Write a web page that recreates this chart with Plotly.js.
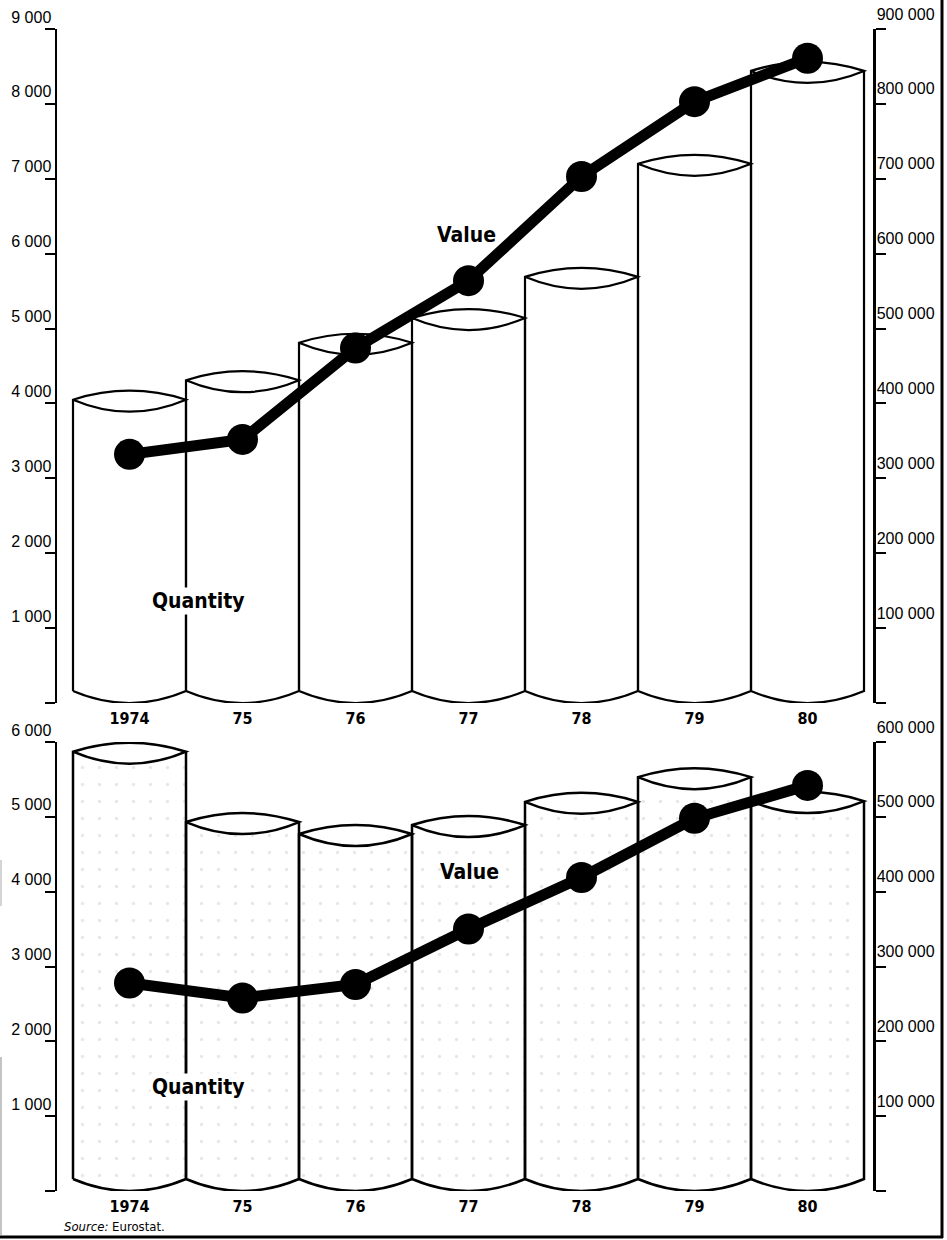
<!DOCTYPE html>
<html>
<head>
<meta charset="utf-8">
<script src="https://cdn.plot.ly/plotly-3.0.1.min.js"></script>
<style>
  html, body { margin: 0; padding: 0; background: #ffffff; }
  #chart { width: 947px; height: 1240px; }
</style>
</head>
<body>
<div id="chart"></div>
<script>
// ---------- data ----------
const years = ['1974', '75', '76', '77', '78', '79', '80'];
const yearPos = [0, 1, 2, 3, 4, 5, 6];

// upper panel
const quantityTop = [3890, 4150, 4650, 4980, 5530, 7040, 8280];
const valueTop = [332000, 352000, 474000, 564000, 703000, 803000, 861000];

// lower panel
const quantityBottom = [5710, 4770, 4610, 4730, 5040, 5370, 5050];
const valueBottom = [278000, 258000, 276000, 350000, 419000, 498000, 542000];

// tick labels
const qtyTicksTop = [0, 1000, 2000, 3000, 4000, 5000, 6000, 7000, 8000, 9000];
const qtyLabelsTop = ['', '1 000', '2 000', '3 000', '4 000', '5 000', '6 000', '7 000', '8 000', '9 000'];
const valTicksTop = [0, 100000, 200000, 300000, 400000, 500000, 600000, 700000, 800000, 900000];
const valLabelsTop = ['', '100 000', '200 000', '300 000', '400 000', '500 000', '600 000', '700 000', '800 000', '900 000'];

const qtyTicksBottom = [0, 1000, 2000, 3000, 4000, 5000, 6000];
const qtyLabelsBottom = ['', '1 000', '2 000', '3 000', '4 000', '5 000', '6 000'];
const valTicksBottom = [0, 100000, 200000, 300000, 400000, 500000, 600000];
const valLabelsBottom = ['', '100 000', '200 000', '300 000', '400 000', '500 000', '600 000'];

const labelValue = 'Value';
const labelQuantity = 'Quantity';
const sourceText = '<i>Source:</i> Eurostat.';

// ---------- styling / geometry ----------
const W = 947, H = 1240;
const M = { l: 57, r: 74, t: 29, b: 49 };
const plotH = H - M.t - M.b;
const domTop = [(1191 - 703) / plotH, 1];
const domBottom = [0, (1191 - 742) / plotH];
const xRange = [-0.6416, 6.5796];
const topQtyMax = 9000, bottomQtyMax = 6000;
const topValMax = 900000, bottomValMax = 600000;

const pxTop = (domTop[1] - domTop[0]) * plotH;
const pxBottom = (domBottom[1] - domBottom[0]) * plotH;
const kTop = topQtyMax / pxTop;          // data units per px
const kBottom = bottomQtyMax / pxBottom;

const COND = '"DejaVu Sans Condensed", "DejaVu Sans", sans-serif';
const SANS = '"Liberation Sans", Arial, sans-serif';

// cylinder outline path built from a bar's value through the data axes
function cylinderPath(i, v, k) {
  const dip = 12 * k, rise = 9 * k;
  const xl = i - 0.5, xr = i + 0.5;
  const yb = dip, ys = v + dip;
  return `M ${xl},${yb} L ${xl},${ys} ` +
         `Q ${i},${ys + 2 * rise} ${xr},${ys} ` +
         `Q ${i},${ys - 2 * dip} ${xl},${ys} ` +
         `M ${xr},${ys} L ${xr},${yb} ` +
         `Q ${i},${yb - 2 * dip} ${xl},${yb}`;
}

const shapes = [];
quantityTop.forEach((v, i) => shapes.push({
  type: 'path', xref: 'x', yref: 'y', layer: 'above',
  path: cylinderPath(yearPos[i], v, kTop),
  line: { color: '#000', width: 2.2 }
}));
quantityBottom.forEach((v, i) => shapes.push({
  type: 'path', xref: 'x2', yref: 'y3', layer: 'above',
  path: cylinderPath(yearPos[i], v, kBottom),
  line: { color: '#000', width: 2.5 }
}));

// scanned page frame
const px2x = p => (p - M.l) / (W - M.l - M.r);
const px2y = p => (H - M.b - p) / plotH;
shapes.push({ type: 'line', xref: 'paper', yref: 'paper', x0: px2x(942), x1: px2x(942), y0: px2y(0), y1: px2y(1238), line: { color: '#000', width: 3 } });
shapes.push({ type: 'line', xref: 'paper', yref: 'paper', x0: px2x(0), x1: px2x(943), y0: px2y(1237), y1: px2y(1237), line: { color: '#000', width: 3 } });
shapes.push({ type: 'line', xref: 'paper', yref: 'paper', x0: px2x(1), x1: px2x(1), y0: px2y(1057), y1: px2y(1236), line: { color: '#888', width: 1 } });
shapes.push({ type: 'line', xref: 'paper', yref: 'paper', x0: px2x(1), x1: px2x(1), y0: px2y(860), y1: px2y(906), line: { color: '#aaa', width: 1 } });

const lineStyle = { color: '#000', width: 11 };
const markerStyle = { color: '#000', size: 31, line: { width: 0 } };

const traces = [
  {
    type: 'bar', x: yearPos, y: quantityTop, xaxis: 'x', yaxis: 'y', width: 1,
    marker: { color: '#ffffff', line: { width: 0 } }, hoverinfo: 'skip', name: labelQuantity
  },
  {
    type: 'scatter', mode: 'lines+markers', x: yearPos, y: valueTop, xaxis: 'x', yaxis: 'y2',
    line: lineStyle, marker: markerStyle, hoverinfo: 'skip', name: labelValue
  },
  {
    type: 'bar', x: yearPos, y: quantityBottom, xaxis: 'x2', yaxis: 'y3', width: 1,
    marker: {
      color: '#ffffff', line: { width: 0 },
      pattern: { shape: '.', fgcolor: '#d0d0d0', bgcolor: '#ffffff', size: 17, solidity: 0.03, fillmode: 'overlay' }
    },
    hoverinfo: 'skip', name: labelQuantity
  },
  {
    type: 'scatter', mode: 'lines+markers', x: yearPos, y: valueBottom, xaxis: 'x2', yaxis: 'y4',
    line: lineStyle, marker: markerStyle, hoverinfo: 'skip', name: labelValue
  }
];

const tickFont = { family: SANS, size: 16, color: '#000' };
function leftAxis(domain, range, vals, text, anchor) {
  return {
    domain, range, anchor, side: 'left', fixedrange: true,
    tickmode: 'array', tickvals: vals, ticktext: text,
    showline: true, linecolor: '#000', linewidth: 2.5,
    ticks: 'outside', ticklen: 10, tickwidth: 2, tickcolor: '#000',
    showgrid: false, zeroline: false,
    tickfont: tickFont, ticklabelshift: -12, ticklabelstandoff: -10
  };
}
function rightAxis(range, vals, text, overlay, anchor) {
  return {
    range, overlaying: overlay, anchor, side: 'right', fixedrange: true,
    tickmode: 'array', tickvals: vals, ticktext: text,
    showline: true, linecolor: '#000', linewidth: 2.5,
    ticks: 'outside', ticklen: 10, tickwidth: 2, tickcolor: '#000',
    showgrid: false, zeroline: false,
    tickfont: tickFont, ticklabelshift: -15, ticklabelstandoff: -12
  };
}
function xAxis(anchor) {
  return {
    domain: [0, 1], range: xRange, anchor, fixedrange: true,
    tickmode: 'array', tickvals: yearPos, ticktext: years,
    showline: false, showgrid: false, zeroline: false, ticks: '',
    tickfont: { family: COND, size: 16, color: '#000', weight: 'bold' },
    ticklabelstandoff: 4
  };
}

const bigLabel = { family: COND, size: 21, color: '#000', weight: 'bold' };
const annotations = [
  { xref: 'x', yref: 'y', x: 2.98, y: 6250, text: labelValue, showarrow: false, font: bigLabel },
  { xref: 'x', yref: 'y', x: 0.61, y: 1360, text: labelQuantity, showarrow: false, font: bigLabel, bgcolor: '#ffffff' },
  { xref: 'x2', yref: 'y3', x: 3.01, y: 4262, text: labelValue, showarrow: false, font: bigLabel },
  { xref: 'x2', yref: 'y3', x: 0.61, y: 1390, text: labelQuantity, showarrow: false, font: bigLabel, bgcolor: '#ffffff' },
  { xref: 'paper', yref: 'paper', x: px2x(62), y: px2y(1226), xanchor: 'left', yanchor: 'middle',
    text: sourceText, showarrow: false, font: { family: COND, size: 13, color: '#000' } }
];

const layout = {
  width: W, height: H, margin: M,
  paper_bgcolor: '#ffffff', plot_bgcolor: 'rgba(0,0,0,0)',
  showlegend: false, barmode: 'overlay',
  xaxis: xAxis('y'),
  yaxis: leftAxis(domTop, [0, topQtyMax], qtyTicksTop, qtyLabelsTop, 'x'),
  yaxis2: rightAxis([0, topValMax], valTicksTop, valLabelsTop, 'y', 'x'),
  xaxis2: xAxis('y3'),
  yaxis3: leftAxis(domBottom, [0, bottomQtyMax], qtyTicksBottom, qtyLabelsBottom, 'x2'),
  yaxis4: rightAxis([0, bottomValMax], valTicksBottom, valLabelsBottom, 'y3', 'x2'),
  shapes, annotations
};

Plotly.newPlot('chart', traces, layout, { displayModeBar: false, staticPlot: true });
</script>
</body>
</html>
